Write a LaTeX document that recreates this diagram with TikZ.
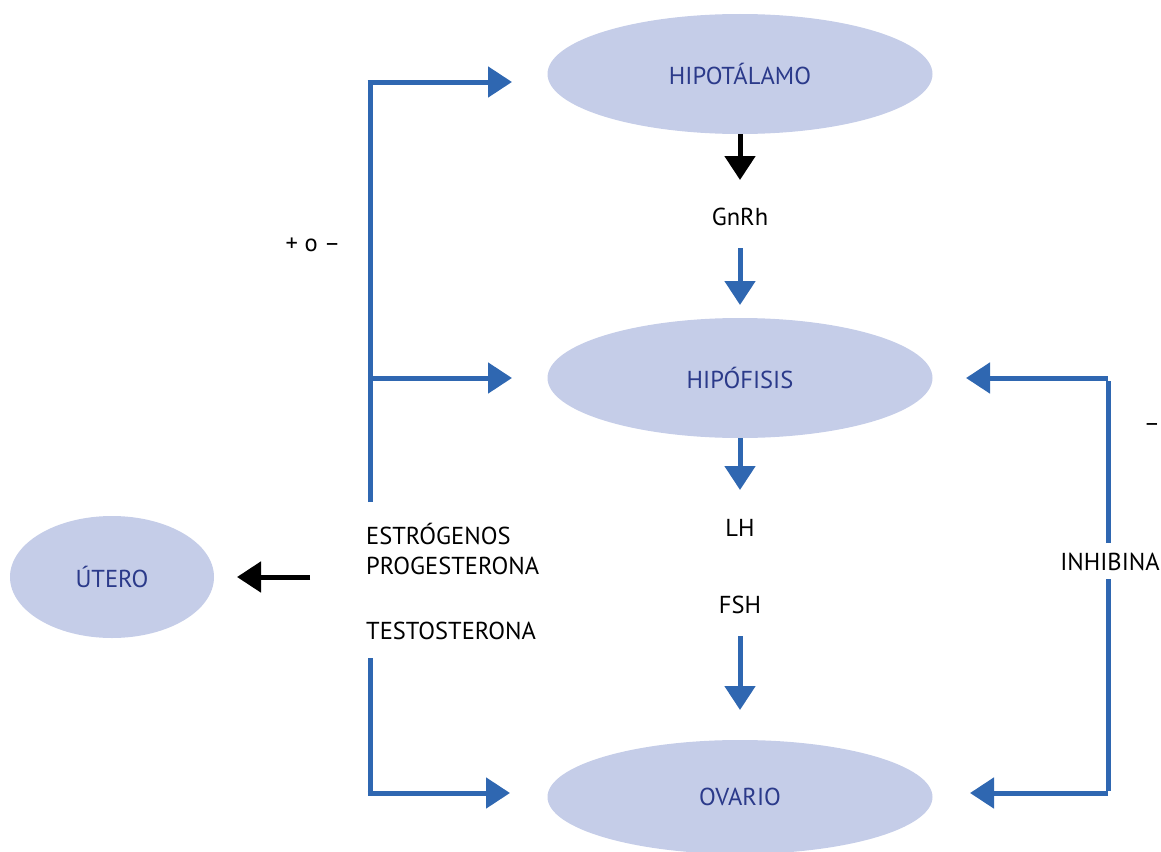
\documentclass[tikz,border=0pt]{standalone}
\usepackage{fontspec}
\setmainfont{PT Sans}
\usetikzlibrary{arrows.meta,shapes.geometric}
\definecolor{ellfill}{HTML}{C5CDE8}
\definecolor{elltext}{HTML}{2B3A8A}
\definecolor{arrblue}{HTML}{2F67B1}
\tikzset{
  organ/.style={ellipse, fill=ellfill, text=elltext, inner sep=0pt, font=\fontsize{24.5}{28}\selectfont},
  lbl/.style={inner sep=0pt, text=black, font=\fontsize{24.5}{28}\selectfont},
  barrow/.style={draw=arrblue, line width=5pt, -{Triangle[length=24pt,width=30pt]}},
  karrow/.style={draw=black, line width=5pt, -{Triangle[length=24pt,width=30pt]}},
  bline/.style={draw=arrblue, line width=5pt},
}
\begin{document}
\begin{tikzpicture}[x=1pt,y=-1pt]
\useasboundingbox (0,0) rectangle (1161,851);
\begin{scope}
\clip (0,0) rectangle (1161,851);
\node[organ, minimum width=385pt, minimum height=120pt] (hipot) at (740,74) {HIPOTÁLAMO};
\node[organ, minimum width=385pt, minimum height=120pt] (hipof) at (740,378) {HIPÓFISIS};
\node[organ, minimum width=385pt, minimum height=114pt] (ovario) at (740,797) {OVARIO};
\node[organ, minimum width=204pt, minimum height=122pt] (utero) at (112,577) {ÚTERO};
\end{scope}

\node[lbl] (gnrh) at (740,217) {GnRh};
\node[lbl] (lh) at (740,528) {LH};
\node[lbl] (fsh) at (740,605) {FSH};
\node[lbl] (pm) at (313,245) {+ o –};
\node[lbl] (minus) at (1152,428) {–};
\node[lbl, anchor=west] (estr) at (366,534) {ESTRÓGENOS};
\node[lbl, anchor=west] (prog) at (366,566) {PROGESTERONA};
\node[lbl, anchor=west] (testo) at (366,631) {TESTOSTERONA};
\node[lbl] (inhib) at (1110,562) {INHIBINA};

% vertical chain
\draw[karrow] (hipot.south) -- (740,180) coordinate (gtop);
\draw[barrow] (740,248) coordinate (g1) -- (740,305) coordinate (g2);
\draw[barrow] (hipof.south) -- (740,490) coordinate (h1);
\draw[barrow] (740,636) coordinate (f1) -- (740,710) coordinate (f2);

% left bracket
\coordinate (lt) at (370,82);
\coordinate (lm) at (370,378);
\coordinate (lb) at (370,502);
\coordinate (lb2) at (370,658);
\coordinate (lbb) at (370,793);
\draw[bline] (lb) -- (lt);
\draw[barrow] ([xshift=-2.5pt]lt) -- (512,82) coordinate (ltip);
\draw[barrow] (lm) -- (512,378) coordinate (mtip);
\draw[bline] (lb2) -- (lbb);
\draw[barrow] ([xshift=-2.5pt]lbb) -- (510,793) coordinate (btip);

% right bracket
\coordinate (rt) at (1108,378);
\coordinate (rg1) at (1108,543);
\coordinate (rg2) at (1108,579);
\coordinate (rb) at (1108,793);
\draw[bline] (rg1) -- ([yshift=-2.5pt]rt);
\draw[barrow] (rt) -- (966,378) coordinate (rtip);
\draw[bline] (rg2) -- ([yshift=2.5pt]rb);
\draw[barrow] (rb) -- (970,793) coordinate (rbtip);

% to utero
\draw[karrow] (310,577) coordinate (us) -- (237,577) coordinate (ut);
\end{tikzpicture}
\end{document}
